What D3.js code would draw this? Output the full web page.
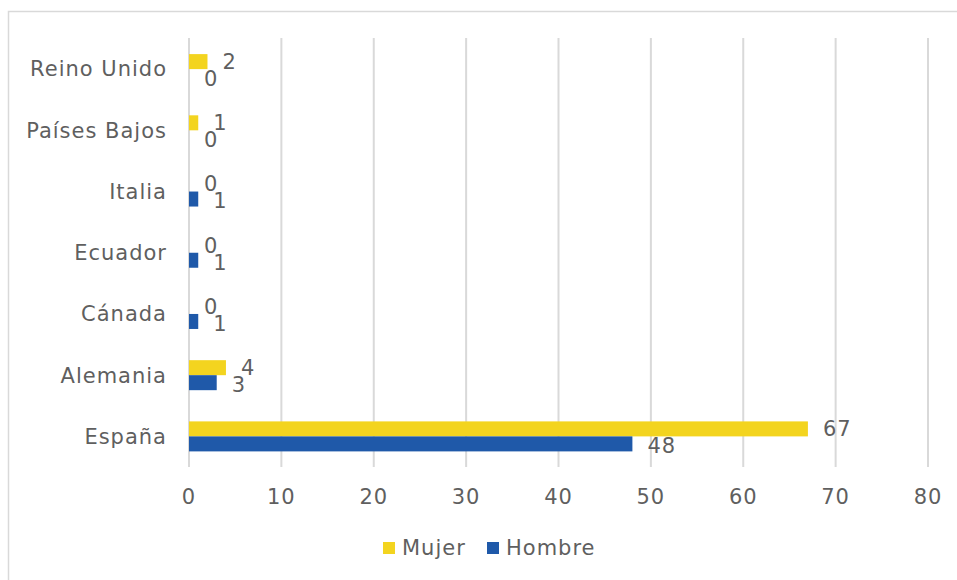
<!DOCTYPE html>
<html>
<head>
<meta charset="utf-8">
<script src="https://cdn.jsdelivr.net/npm/d3@7"></script>
<style>
  body { margin: 0; background: #fff; }
  text { font-family: "DejaVu Sans", sans-serif; fill: #5f5f5f; font-size: 21px; letter-spacing: 1px; }
</style>
</head>
<body>
<div id="chart"></div>
<script>
var countries = ["Reino Unido", "Países Bajos", "Italia", "Ecuador", "Cánada", "Alemania", "España"];
var mujer = [2, 1, 0, 0, 0, 4, 67];
var hombre = [0, 0, 1, 1, 1, 3, 48];
var xTicks = [0, 10, 20, 30, 40, 50, 60, 70, 80];
var seriesNames = ["Mujer", "Hombre"];
var seriesColors = ["#f3d41f", "#1f59a9"];

var W = 957, H = 580;
var svg = d3.select("#chart").append("svg")
    .attr("width", W)
    .attr("height", H);

// outer frame (right/bottom edges fall outside the picture)
svg.append("rect")
    .attr("x", 8.5).attr("y", 11.5)
    .attr("width", 960).attr("height", 600)
    .attr("fill", "none")
    .attr("stroke", "#d9d9d9")
    .attr("stroke-width", 1.5);

var x = d3.scaleLinear().domain([0, 80]).range([189, 928]);
var y = d3.scaleBand().domain(countries).range([38.5, 467]).padding(0);
var barH = 15;

// gridlines
svg.append("g").selectAll("line")
    .data(xTicks)
    .enter().append("line")
    .attr("x1", d => x(d)).attr("x2", d => x(d))
    .attr("y1", 38).attr("y2", 467)
    .attr("stroke", "#d9d9d9")
    .attr("stroke-width", 2);

// x tick labels
svg.append("g").selectAll("text")
    .data(xTicks)
    .enter().append("text")
    .attr("x", d => x(d))
    .attr("y", 497)
    .attr("dy", "0.35em")
    .attr("text-anchor", "middle")
    .text(d => d);

// category labels
svg.append("g").selectAll("text")
    .data(countries)
    .enter().append("text")
    .attr("x", 167)
    .attr("y", d => y(d) + y.bandwidth() / 2)
    .attr("dy", "0.35em")
    .attr("text-anchor", "end")
    .text(d => d);

var series = [mujer, hombre];
series.forEach(function(vals, i) {
    var g = svg.append("g");
    var rows = countries.map((c, j) => ({ c: c, v: vals[j] }));
    var yOff = i === 0 ? -barH : 0;

    g.selectAll("rect")
        .data(rows)
        .enter().append("rect")
        .attr("x", x(0))
        .attr("y", d => y(d.c) + y.bandwidth() / 2 + yOff)
        .attr("width", d => x(d.v) - x(0))
        .attr("height", barH)
        .attr("fill", seriesColors[i]);

    g.selectAll("text")
        .data(rows)
        .enter().append("text")
        .attr("x", d => x(d.v) + 15)
        .attr("y", d => y(d.c) + y.bandwidth() / 2 + yOff + barH / 2 + (i === 0 ? 0 : 2))
        .attr("dy", "0.35em")
        .text(d => d.v);
});

// legend
var legendX = [383, 487];
seriesNames.forEach(function(name, i) {
    svg.append("rect")
        .attr("x", legendX[i]).attr("y", 542)
        .attr("width", 12).attr("height", 12)
        .attr("fill", seriesColors[i]);
    svg.append("text")
        .attr("x", legendX[i] + 19)
        .attr("y", 548)
        .attr("dy", "0.35em")
        .text(name);
});
</script>
</body>
</html>
